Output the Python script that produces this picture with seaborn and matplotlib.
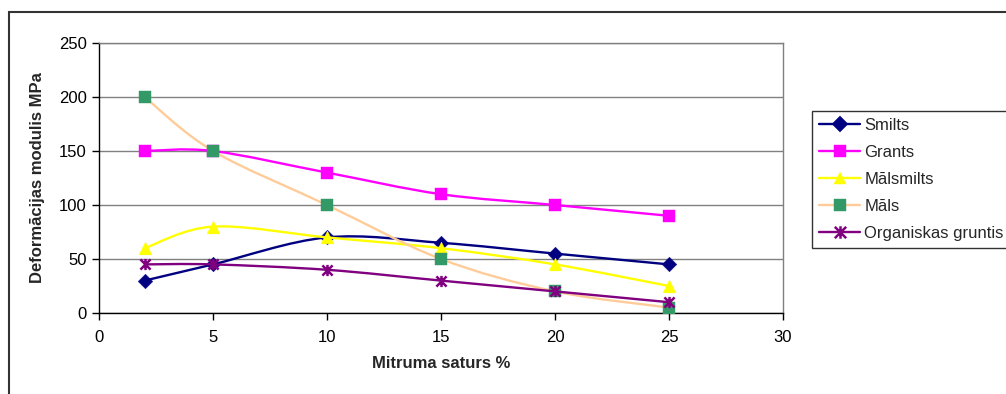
import numpy as np
import pandas as pd
import seaborn as sns
import matplotlib.pyplot as plt
from matplotlib.path import Path
from matplotlib.patches import PathPatch, Rectangle
from matplotlib.lines import Line2D

sns.set_style('white')
plt.rcParams['font.family'] = ['Liberation Sans', 'DejaVu Sans']

mitrums = [2, 5, 10, 15, 20, 25]
smilts = [30, 45, 70, 65, 55, 45]
grants = [150, 150, 130, 110, 100, 90]
malsmilts = [60, 80, 70, 60, 45, 25]
mals = [200, 150, 100, 50, 20, 5]
organiskas = [45, 45, 40, 30, 20, 10]

nosaukumi = ['Smilts', 'Grants', 'Mālsmilts', 'Māls', 'Organiskas gruntis']
vertibas = [smilts, grants, malsmilts, mals, organiskas]
linijas = ['#000080', '#FF00FF', '#FFFF00', '#FFCC99', '#800080']
markeri_kr = ['#000080', '#FF00FF', '#FFFF00', '#339966', '#800080']

# Excel zvaigznīte: X ar vertikālu svītru
zvaigzne = Path([(-1, -1), (1, 1), (-1, 1), (1, -1), (0, -1.1), (0, 1.1)],
                [Path.MOVETO, Path.LINETO] * 3)
markeri = ['D', 's', '^', 's', zvaigzne]
izmeri = [55, 75, 85, 75, 65]

rows = []
for n, v in zip(nosaukumi, vertibas):
    for x, y in zip(mitrums, v):
        rows.append({'Mitrums': x, 'Modulis': y, 'Grunts': n})
df = pd.DataFrame(rows)


def gluda_likne(xs, ys):
    # Excel stila gludā līnija (Catmull-Rom -> Bezier)
    p = np.column_stack([xs, ys]).astype(float)
    n = len(p)
    verts = [p[0]]
    codes = [Path.MOVETO]
    for i in range(n - 1):
        p0 = p[i - 1] if i > 0 else p[i]
        p3 = p[i + 2] if i + 2 < n else p[i + 1]
        c1 = p[i] + (p[i + 1] - p0) / 6
        c2 = p[i + 1] - (p3 - p[i]) / 6
        verts += [c1, c2, p[i + 1]]
        codes += [Path.CURVE4] * 3
    return Path(verts, codes)


fig = plt.figure(figsize=(10.06, 3.94), dpi=100)
ax = fig.add_axes([99 / 1006, 1 - 313 / 394, 684 / 1006, 270 / 394])

for i, n in enumerate(nosaukumi):
    d = df[df['Grunts'] == n]
    ax.add_patch(PathPatch(gluda_likne(d['Mitrums'], d['Modulis']),
                           facecolor='none', edgecolor=linijas[i], lw=1.7,
                           zorder=3 + 2 * i))
    sns.scatterplot(data=d, x='Mitrums', y='Modulis', marker=markeri[i],
                    color=markeri_kr[i], s=izmeri[i], edgecolor=markeri_kr[i],
                    linewidth=1.8 if i == 4 else 0.3, ax=ax, zorder=4 + 2 * i,
                    legend=False)

ax.set_xlim(0, 30)
ax.set_ylim(0, 250)
ax.set_xticks(range(0, 31, 5))
ax.set_yticks(range(0, 251, 50))
ax.yaxis.grid(True, color='#808080', lw=1)
ax.set_axisbelow(True)
for s in ['top', 'right']:
    ax.spines[s].set_color('#808080')
    ax.spines[s].set_linewidth(1)
for s in ['left', 'bottom']:
    ax.spines[s].set_color('black')
    ax.spines[s].set_linewidth(1)
ax.tick_params(axis='both', direction='out', length=5, width=1,
               colors='black', labelsize=12, pad=4, left=True, bottom=True)
ax.tick_params(axis='x', pad=7)
ax.set_xlabel('Mitruma saturs %', fontsize=12, fontweight='bold', labelpad=8)
ax.set_ylabel('Deformācijas modulis MPa', fontsize=12, fontweight='bold',
              labelpad=10)

roktura = []
for i, n in enumerate(nosaukumi):
    roktura.append(Line2D([0], [0], color=linijas[i], lw=1.7, marker=markeri[i],
                          markersize=9 if i != 0 else 8,
                          markerfacecolor=markeri_kr[i],
                          markeredgecolor=markeri_kr[i],
                          markeredgewidth=1.8 if i == 4 else 0.3, label=n))
leg = fig.legend(handles=roktura, loc='upper left',
                 bbox_to_anchor=(812 / 1006, 1 - 111 / 394), fontsize=12,
                 frameon=True, fancybox=False, borderaxespad=0,
                 handlelength=2.5, handletextpad=0.25, labelspacing=0.73,
                 borderpad=0.4)
leg.get_frame().set_edgecolor('black')
leg.get_frame().set_linewidth(1)

fig.patches.append(Rectangle((9 / 1006, -0.1), 1.1, 0.1 + 1 - 12 / 394,
                             transform=fig.transFigure, fill=False,
                             edgecolor='#333333', lw=1.5))

fig.savefig('out.png', dpi=100)
